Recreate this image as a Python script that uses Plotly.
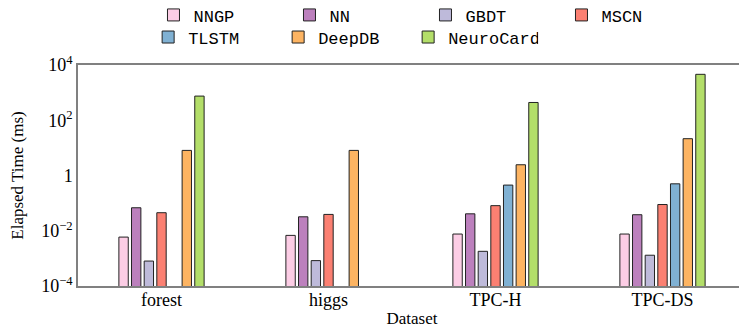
import plotly.graph_objects as go

datasets = ["forest", "higgs", "TPC-H", "TPC-DS"]
methods = ["NNGP", "NN", "GBDT", "MSCN", "TLSTM", "DeepDB", "NeuroCard"]
colors = ["#fccde5", "#bc80bd", "#bebada", "#fb8072", "#80b1d3", "#fdb462", "#b3de69"]

# elapsed time in ms per method, one value per dataset (None = not reported)
nngp = [0.0059, 0.0068, 0.0076, 0.0076]
nn = [0.068, 0.032, 0.041, 0.038]
gbdt = [0.0008, 0.00083, 0.0018, 0.0013]
mscn = [0.045, 0.039, 0.081, 0.089]
tlstm = [None, None, 0.45, 0.5]
deepdb = [8.1, 8.1, 2.45, 21.5]
neurocard = [750, None, 440, 4600]
values = [nngp, nn, gbdt, mscn, tlstm, deepdb, neurocard]

ytick_vals = [1e-4, 1e-2, 1, 1e2, 1e4]
ytick_text = ["10<sup>−4</sup>", "10<sup>−2</sup>", "1", "10<sup>2</sup>", "10<sup>4</sup>"]

serif = "Liberation Serif"
mono = "Liberation Mono, Courier New, monospace"

fig = go.Figure()
for i, (name, vals, col) in enumerate(zip(methods, values, colors)):
    fig.add_trace(go.Bar(
        x=datasets, y=vals, name=name,
        legend="legend" if i < 4 else "legend2",  # two legend rows like the original
        marker=dict(color=col, line=dict(color="#222222", width=1)),
    ))

axis_style = dict(showline=True, linecolor="#808080", linewidth=1.5, mirror=True,
                  showgrid=False, zeroline=False, ticks="", automargin=False,
                  tickfont=dict(family=serif, size=18, color="black"))

legend_style = dict(orientation="h", xanchor="left", yanchor="top",
                    font=dict(family=mono, size=17, color="black"),
                    entrywidthmode="pixels", itemwidth=30, tracegroupgap=0,
                    bgcolor="rgba(0,0,0,0)")

# the page body has an 8px margin, so the figure is sized to fit the window
fig.update_layout(
    width=739, height=324,
    margin=dict(l=70, r=1, t=57, b=46, autoexpand=False),
    plot_bgcolor="white", paper_bgcolor="white",
    barmode="group", bargap=0.47, bargroupgap=0.26,
    font=dict(family=serif, color="black", size=17),
    showlegend=True,
    legend=dict(**legend_style, x=0.113, y=1.306, entrywidth=91),
    legend2=dict(**legend_style, x=0.105, y=1.206, entrywidth=85),
)
fig.update_xaxes(**axis_style, ticklabelstandoff=-3,
                 title=dict(text="Dataset", font=dict(family=serif, size=17), standoff=3))
fig.update_yaxes(**axis_style, type="log", range=[-4, 4],
                 tickvals=ytick_vals, ticktext=ytick_text,
                 title=dict(text="Elapsed Time (ms)", font=dict(family=serif, size=17), standoff=15))

fig.write_html("out.html")
